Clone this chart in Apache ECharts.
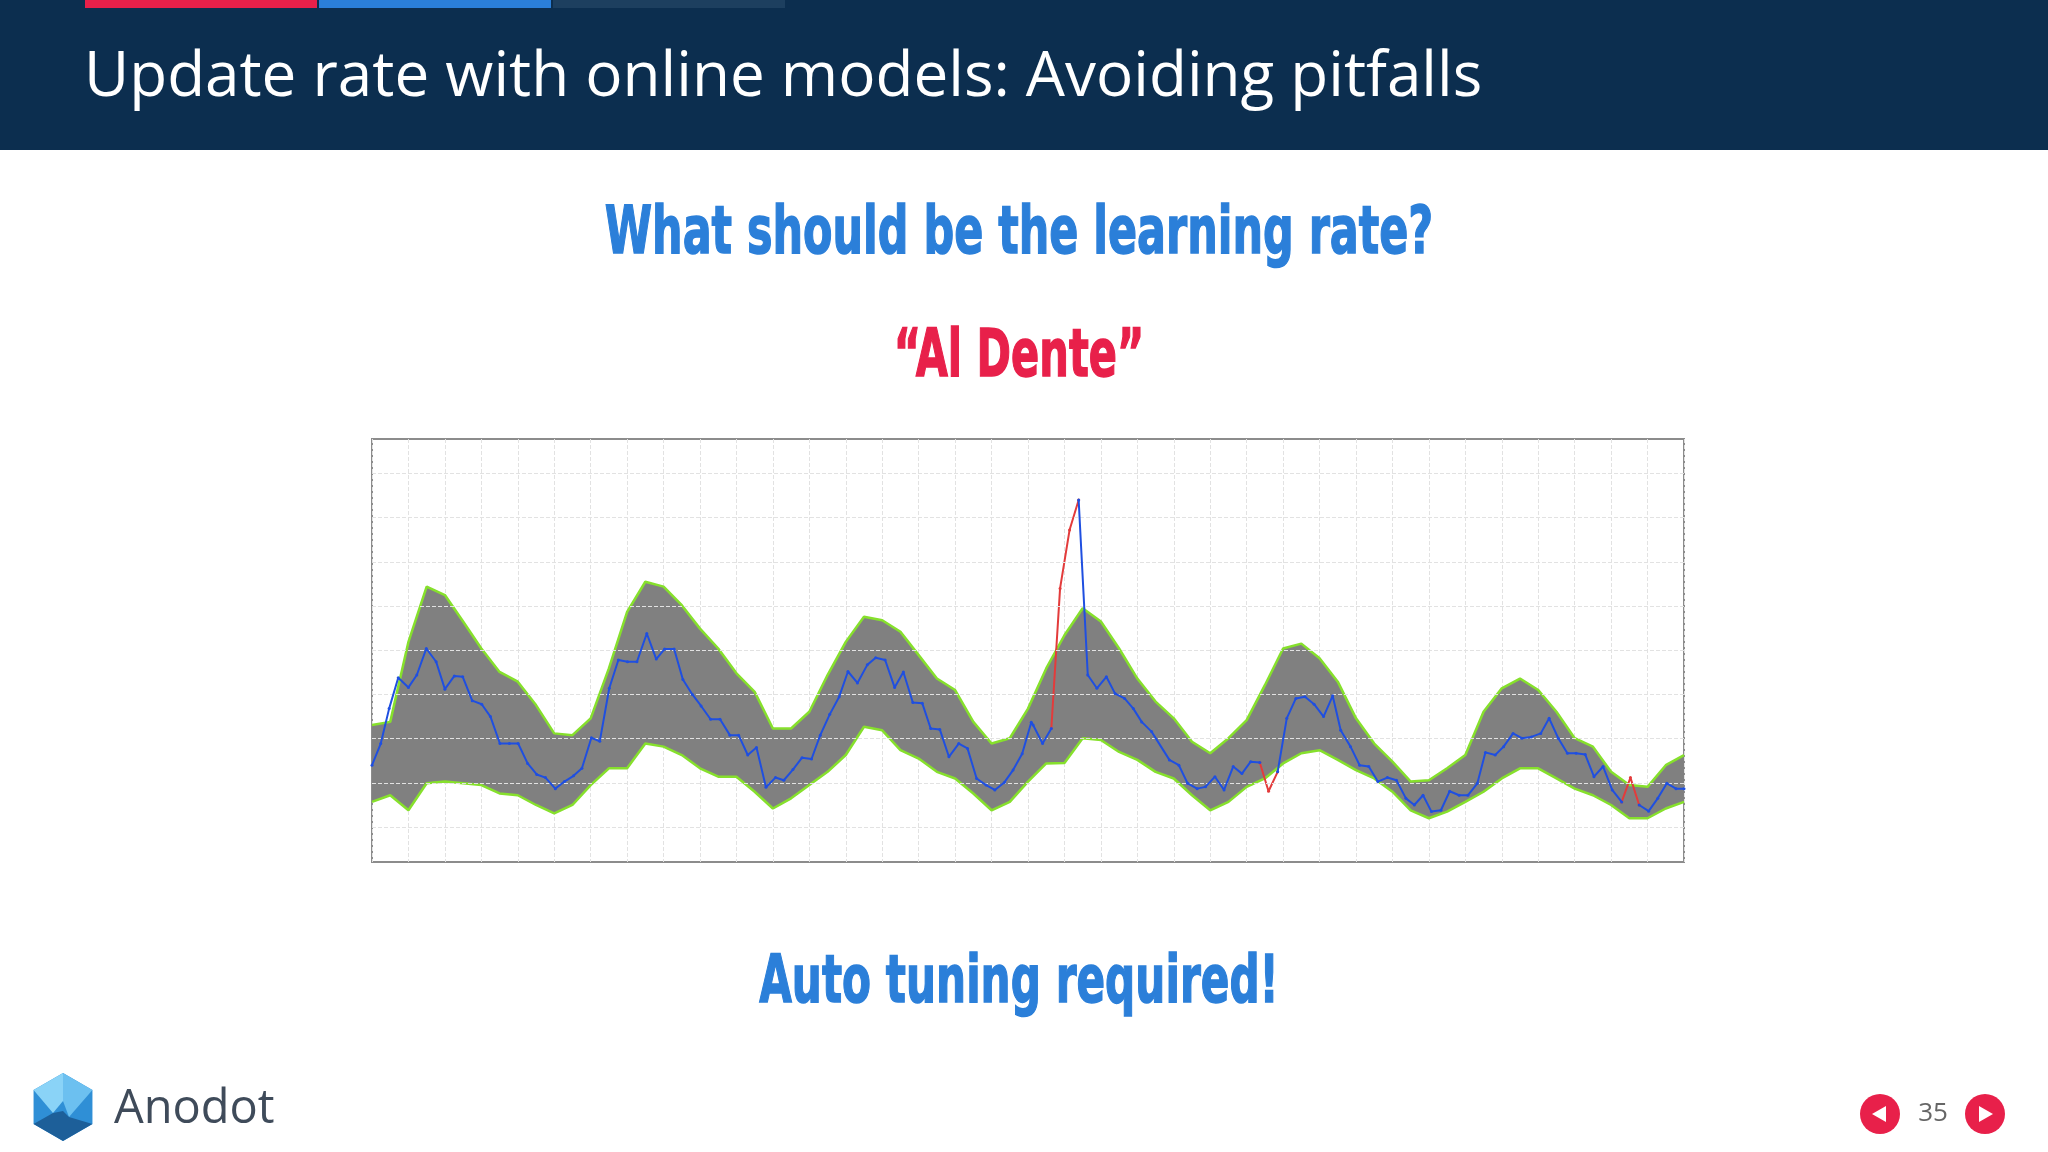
<!DOCTYPE html>
<html><head><meta charset="utf-8">
<script src="https://cdn.jsdelivr.net/npm/echarts@6/dist/echarts.min.js"></script>
<style>html,body{margin:0;padding:0;background:#fff}#c{width:2048px;height:1152px}</style>
</head><body><div id="c"></div>
<script>
const title = 'Update rate with online models: Avoiding pitfalls';
const heading = 'What should be the learning rate?';
const subHeading = '\u201CAl Dente\u201D';
const footerText = 'Auto tuning required!';
const pageNumber = '35';
const bandStep = 0.5;
const upper = [2.31,2.38,4.19,5.44,5.25,4.65,4.04,3.51,3.29,2.76,2.12,2.08,2.46,3.59,4.87,5.55,5.44,5.02,4.49,4.04,3.48,3.06,2.23,2.23,2.61,3.44,4.19,4.76,4.68,4.42,3.89,3.36,3.10,2.38,1.89,2.01,2.68,
 3.59,4.34,4.95,4.65,4.04,3.36,2.84,2.46,1.93,1.67,2.01,2.42,3.21,4.04,4.15,3.82,3.29,2.46,1.89,1.48,1.03,1.06,1.33,1.63,2.61,3.14,3.36,3.10,2.61,2.01,1.82,1.25,0.95,0.91,1.40,1.63];
const lower = [0.57,0.72,0.38,0.99,1.03,0.99,0.95,0.76,0.72,0.50,0.31,0.50,0.95,1.33,1.33,1.89,1.82,1.63,1.33,1.14,1.14,0.80,0.42,0.65,0.95,1.25,1.63,2.27,2.19,1.74,1.55,1.25,1.10,0.76,0.38,0.57,1.03,
 1.44,1.45,2.01,1.97,1.70,1.52,1.25,1.10,0.72,0.38,0.57,0.91,1.10,1.44,1.67,1.74,1.52,1.29,1.10,0.80,0.38,0.20,0.35,0.57,0.80,1.10,1.33,1.33,1.10,0.87,0.72,0.50,0.20,0.20,0.42,0.57];
const blueX = [0.00,0.24,0.47,0.72,1.00,1.23,1.49,1.76,2.00,2.26,2.49,2.75,3.01,3.25,3.51,3.77,4.01,4.27,4.52,4.76,5.03,5.28,5.53,5.76,6.02,6.25,6.51,6.76,7.01,7.27,7.54,7.80,8.03,8.29,8.53,8.79,9.03,9.29,9.55,9.82,10.06,10.31,10.55,10.81,11.07,11.30,11.55,11.80,12.06,12.30,12.56,12.82,13.06,13.32,13.59,13.82,14.08,14.34,14.58,14.84,15.10,15.33,15.58,15.83,16.10,16.34,16.59,16.85,17.09,17.35,17.59,17.84,18.09,18.14,18.40,18.64,null,
 19.39,19.64,19.89,20.15,20.39,20.65,20.89,21.12,21.39,21.88,22.14,22.38,22.64,22.87,23.13,23.38,23.63,23.87,24.11,24.36,null,24.85,25.10,25.35,25.60,25.85,26.11,26.36,26.58,26.85,27.10,27.35,27.60,27.86,28.11,28.37,28.60,28.84,29.07,29.33,29.57,29.83,30.07,30.33,30.55,30.82,31.05,31.31,31.55,31.81,32.07,32.30,32.55,32.80,33.04,33.29,33.53,33.78,34.03,34.29,null,34.77,35.03,35.28,35.53,35.78,36.00];
const blueY = [1.40,1.89,2.68,3.38,3.16,3.44,4.04,3.74,3.12,3.42,3.40,2.86,2.78,2.50,1.89,1.89,1.89,1.44,1.19,1.12,0.87,1.03,1.16,1.33,2.02,1.94,3.14,3.78,3.74,3.74,4.38,3.80,4.03,4.03,3.34,3.00,2.74,2.44,2.44,2.08,2.08,1.63,1.80,0.90,1.12,1.06,1.30,1.57,1.54,2.08,2.55,2.95,3.52,3.26,3.67,3.83,3.78,3.16,3.51,2.82,2.80,2.23,2.21,1.59,1.89,1.78,1.10,0.95,0.84,1.01,1.29,1.66,2.37,2.31,1.89,2.23,null,
 7.40,3.44,3.14,3.40,3.02,2.91,2.68,2.38,2.16,1.52,1.40,0.99,0.87,0.91,1.14,0.84,1.37,1.21,1.48,1.46,null,1.25,2.46,2.91,2.95,2.78,2.50,2.97,2.19,1.82,1.40,1.37,1.03,1.12,1.06,0.65,0.50,0.72,0.35,0.38,0.81,0.72,0.72,0.99,1.69,1.63,1.82,2.12,2.01,2.04,2.12,2.46,2.01,1.67,1.67,1.64,1.14,1.37,0.84,0.57,null,0.50,0.36,0.65,0.99,0.87,0.87];
const redX = [18.64,18.88,19.14,19.39,null,24.36,24.60,24.85,null,34.29,34.53,34.77];
const redY = [2.23,5.40,6.72,7.40,null,1.46,0.81,1.25,null,0.57,1.12,0.50];
const hGrid = [0,1,2,3,4,5,6,7,8];

const pairs = (xs, ys) => xs.map((x,i)=> x===null ? '-' : [x, ys[i]]);
const bandXs = upper.map((_,i)=> i*bandStep);
const upperPts = pairs(bandXs, upper), lowerPts = pairs(bandXs, lower);

const chart = echarts.init(document.getElementById('c'));
const heads = [
  {text: heading, x: 1019, y: 236, color: '#2b7fd9', sx: 0.65},
  {text: subHeading, x: 1019, y: 359, color: '#e8204a', sx: 0.63},
  {text: footerText, x: 1019, y: 985, color: '#2b7fd9', sx: 0.64}
].map(h => ({type:'text', x:h.x, y:h.y, scaleX:h.sx, style:{text:h.text, fill:h.color, font:'bold 66px "DejaVu Sans"', textAlign:'center', textVerticalAlign:'middle', stroke:h.color, lineWidth:1.5}}));

const cx=63, cy=1107, R=34;
const hex=[]; for(let k=0;k<6;k++){const a=Math.PI/180*(60*k-90);hex.push([cx+R*Math.cos(a),cy+R*Math.sin(a)]);}

chart.setOption({
  animation:false,
  grid:{left:372, top:439, width:1312, height:423, show:true, borderColor:'#8c8c8c', borderWidth:2, backgroundColor:'#fff'},
  xAxis:{type:'value', min:0, max:36, interval:1, axisLine:{show:false}, axisTick:{show:false}, axisLabel:{show:false},
    splitLine:{show:true, lineStyle:{color:'#e2e2e2', type:'dashed', width:1}}},
  yAxis:{type:'value', min:-0.79, max:8.78, axisLine:{show:false}, axisTick:{show:false}, axisLabel:{show:false}, splitLine:{show:false}},
  graphic:[
    {type:'rect', shape:{x:0,y:0,width:2048,height:150}, style:{fill:'#0c2e4f'}},
    {type:'rect', shape:{x:85,y:0,width:232,height:8}, style:{fill:'#e8204a'}},
    {type:'rect', shape:{x:319,y:0,width:232,height:8}, style:{fill:'#2b7fd9'}},
    {type:'rect', shape:{x:553,y:0,width:232,height:8}, style:{fill:'#1d3f5f'}},
    {type:'text', x:84, y:78, style:{text:title, fill:'#ffffff', font:'62px "Open Sans"', textVerticalAlign:'middle'}},
    ...heads,
    {type:'polygon', shape:{points:hex}, style:{fill:'#2f8fd6'}},
    {type:'polygon', shape:{points:[[cx,cy-R],hex[1],[cx+6,cy+10],[cx,cy-6]]}, style:{fill:'#6cc0f0'}},
    {type:'polygon', shape:{points:[[cx,cy-R],hex[5],[cx-10,cy+6],[cx,cy-6]]}, style:{fill:'#8ad3f7'}},
    {type:'polygon', shape:{points:[hex[2],hex[3],hex[4],[cx-10,cy+6],[cx,cy+4],[cx+6,cy+10]]}, style:{fill:'#1d5f99'}},
    {type:'text', x:114, y:1110, style:{text:'Anodot', fill:'#3f4b5a', font:'47px "Open Sans"', textVerticalAlign:'middle'}},
    {type:'circle', shape:{cx:1880, cy:1114, r:20}, style:{fill:'#e8204a'}},
    {type:'polygon', shape:{points:[[1872,1114],[1886,1106],[1886,1122]]}, style:{fill:'#fff'}},
    {type:'circle', shape:{cx:1985, cy:1114, r:20}, style:{fill:'#e8204a'}},
    {type:'polygon', shape:{points:[[1993,1114],[1979,1106],[1979,1122]]}, style:{fill:'#fff'}},
    {type:'text', x:1933, y:1114, style:{text:pageNumber, fill:'#666', font:'26px "Open Sans"', textAlign:'center', textVerticalAlign:'middle'}}
  ],
  series:[
    {type:'custom', silent:true, data:[0], z:2,
      renderItem:(params, api)=>{
        const pts = upperPts.map(p=>api.coord(p)).concat(lowerPts.slice().reverse().map(p=>api.coord(p)));
        return {type:'polygon', shape:{points:pts}, style:{fill:'#808080'}};
      },
      markLine:{silent:true, symbol:'none', label:{show:false}, lineStyle:{color:'#e2e2e2', type:'dashed', width:1},
        data: hGrid.map(v=>({yAxis:v}))}},
    {type:'line', data:upperPts, symbol:'none', lineStyle:{color:'#86e02c', width:2.5}, z:3},
    {type:'line', data:lowerPts, symbol:'none', lineStyle:{color:'#86e02c', width:2.5}, z:3},
    {type:'line', data:pairs(redX, redY), symbol:'circle', symbolSize:3, itemStyle:{color:'#e33b3b'}, lineStyle:{color:'#e33b3b', width:2}, z:4},
    {type:'line', data:pairs(blueX, blueY), symbol:'circle', symbolSize:3, itemStyle:{color:'#1f4fe0'}, lineStyle:{color:'#1f4fe0', width:2}, z:5}
  ]
});
</script></body></html>
